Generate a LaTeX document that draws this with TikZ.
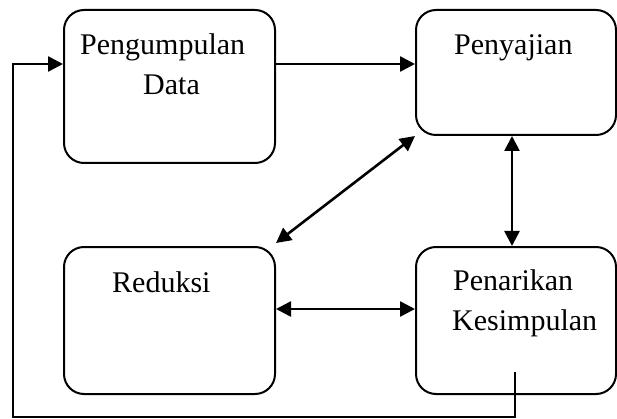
\documentclass[tikz,border=0pt]{standalone}
\usepackage{fontspec}
\setmainfont{Liberation Serif}
\usetikzlibrary{arrows.meta}
\begin{document}
\begin{tikzpicture}[x=1pt,y=-1pt,
  box/.style={draw,line width=2pt,rounded corners=20pt,inner sep=0pt},
  lbl/.style={anchor=base west,inner sep=0pt,font=\fontsize{30}{35}\selectfont},
  conn/.style={line width=2.6pt,-{Triangle[length=15pt,width=15pt]}},
  dconn/.style={line width=2.6pt,{Triangle[length=15pt,width=15pt]}-{Triangle[length=15pt,width=15pt]}}]
\useasboundingbox (0,0) rectangle (617,419);
\node[box,minimum width=211pt,minimum height=153pt] (b1) at (169.5,86.5) {};
\node[box,minimum width=200pt,minimum height=125pt] (b2) at (516,72.5) {};
\node[box,minimum width=211pt,minimum height=147pt] (b3) at (169.5,320.5) {};
\node[box,minimum width=200pt,minimum height=147pt] (b4) at (516,320.5) {};
\node[lbl] (t1) at (80,55) {Pengumpulan};
\node[lbl] (t1b) at (143,95) {Data};
\node[lbl] (t2) at (454,55) {Penyajian};
\node[lbl] (t3) at (112,292) {Reduksi};
\node[lbl] (t4) at (453,290) {Penarikan};
\node[lbl] (t4b) at (452,330) {Kesimpulan};
\coordinate (fb) at (515,372);
\coordinate (lc) at (13,417);
\draw[conn] ([yshift=22.5pt]b1.east) -- ([yshift=8.5pt]b2.west);
\draw[dconn] ([xshift=-4pt]b2.south) -- ([xshift=-4pt]b4.north);
\draw[dconn] (b2.south west) -- ([yshift=3pt]b3.north east);
\draw[dconn] ([yshift=11.5pt]b3.east) -- ([yshift=11.5pt]b4.west);
\draw[conn] (fb) |- (lc) |- ([yshift=22.5pt]b1.west);
\end{tikzpicture}
\end{document}
